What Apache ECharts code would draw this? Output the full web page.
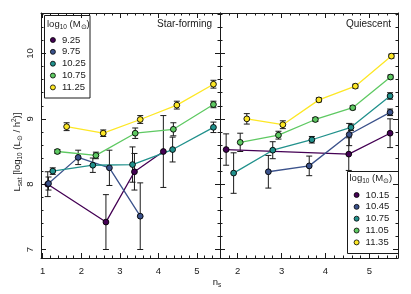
<!DOCTYPE html>
<html><head><meta charset="utf-8">
<script src="https://cdn.jsdelivr.net/npm/echarts@6/dist/echarts.min.js"></script>
<style>html,body{margin:0;padding:0;background:#fff}#c{width:411px;height:294px}</style>
</head><body><div id="c"></div><script>
// ---------- data ----------
const sfMass = ['9.25', '9.75', '10.25', '10.75', '11.25'];
const sfX925 = [1.13, 2.64, 3.38, 4.13];
const sfY925 = [8.00, 7.42, 8.19, 8.50];
const sfE925 = [0.19, 0.42, 0.28, 0.55];
const sfX975 = [1.15, 1.92, 2.73, 3.53];
const sfY975 = [8.01, 8.41, 8.25, 7.51];
const sfE975 = [0.10, 0.11, 0.27, 0.51];
const sfX1025 = [1.26, 2.30, 3.33, 4.37, 5.43];
const sfY1025 = [8.20, 8.29, 8.30, 8.53, 8.87];
const sfE1025 = [0.05, 0.11, 0.27, 0.19, 0.08];
const sfX1075 = [1.38, 2.38, 3.40, 4.39, 5.43];
const sfY1075 = [8.50, 8.44, 8.78, 8.84, 9.22];
const sfE1075 = [0.03, 0.05, 0.08, 0.10, 0.05];
const sfX1125 = [1.62, 2.57, 3.53, 4.48, 5.43];
const sfY1125 = [8.88, 8.78, 8.99, 9.21, 9.53];
const sfE1125 = [0.06, 0.05, 0.06, 0.06, 0.06];

const qMass = ['10.15', '10.45', '10.75', '11.05', '11.35'];
const qX1015 = [1.74, 4.53, 5.47];
const qY1015 = [8.53, 8.46, 8.78];
const qE1015 = [0.24, 0.25, 0.22];
const qX1045 = [2.70, 3.63, 4.54, 5.47];
const qY1045 = [8.19, 8.28, 8.76, 9.10];
const qE1045 = [0.25, 0.15, 0.17, 0.05];
const qX1075 = [1.91, 2.80, 3.69, 4.58, 5.47];
const qY1075 = [8.17, 8.52, 8.68, 8.87, 9.35];
const qE1075 = [0.31, 0.13, 0.05, 0.05, 0.05];
const qX1105 = [2.06, 2.93, 3.77, 4.62, 5.48];
const qY1105 = [8.64, 8.75, 8.99, 9.17, 9.64];
const qE1105 = [0.14, 0.06, 0.03, 0.03, 0.03];
const qX1135 = [2.21, 3.03, 3.85, 4.68, 5.50];
const qY1135 = [9.00, 8.91, 9.29, 9.50, 9.96];
const qE1135 = [0.08, 0.06, 0.03, 0.03, 0.03];

const xTickLabels = [1, 2, 3, 4, 5];
const yTickLabels = [7, 8, 9, 10];
const yMinor = [7.2, 7.4, 7.6, 7.8, 8.2, 8.4, 8.6, 8.8, 9.2, 9.4, 9.6, 9.8, 10.2, 10.4, 10.6];
const xMinorSF = [1.2, 1.4, 1.6, 1.8, 2.2, 2.4, 2.6, 2.8, 3.2, 3.4, 3.6, 3.8, 4.2, 4.4, 4.6, 4.8, 5.2, 5.4];
const xMinorQ = [1.8, 2.2, 2.4, 2.6, 2.8, 3.2, 3.4, 3.6, 3.8, 4.2, 4.4, 4.6, 4.8, 5.2, 5.4, 5.6];
const xMajorQ = [2, 3, 4, 5];

// ---------- style ----------
const FONT = '"Liberation Sans", Arial, Helvetica, sans-serif';
const INK = '#1a1a1a';
const VIRIDIS = ['#440154', '#3b528b', '#21918c', '#5ec962', '#fde725'];
const YMIN = 6.87, YMAX = 10.62;
const SF_MIN = 0.955, SF_MAX = 5.6;
const Q_MIN = 1.6, Q_MAX = 5.65;

function mkX(g, min, max, pos, vals, len, line, labels) {
  return {
    type: 'value', gridIndex: g, min: min, max: max, position: pos,
    axisLine: { show: line, onZero: false, lineStyle: { color: INK, width: 1 } },
    axisTick: { show: true, inside: true, length: len, customValues: vals, lineStyle: { color: INK, width: 1 } },
    axisLabel: labels ? { show: true, customValues: labels, margin: 8, fontSize: 9.5, fontFamily: FONT, color: INK,
      showMinLabel: true, showMaxLabel: true } : { show: false },
    splitLine: { show: false }
  };
}
function mkY(g, pos, vals, len, line) {
  return {
    type: 'value', gridIndex: g, min: YMIN, max: YMAX, position: pos,
    axisLine: { show: line, onZero: false, lineStyle: { color: INK, width: 1 } },
    axisTick: { show: true, inside: true, length: len, customValues: vals, lineStyle: { color: INK, width: 1 } },
    axisLabel: { show: false },
    splitLine: { show: false }
  };
}

const xAxis = [
  mkX(0, SF_MIN, SF_MAX, 'bottom', xTickLabels, 5, true, xTickLabels),
  mkX(0, SF_MIN, SF_MAX, 'bottom', xMinorSF, 2.5, false, null),
  mkX(0, SF_MIN, SF_MAX, 'top', xTickLabels, 5, true, null),
  mkX(0, SF_MIN, SF_MAX, 'top', xMinorSF, 2.5, false, null),
  mkX(1, Q_MIN, Q_MAX, 'bottom', xMajorQ, 5, true, xMajorQ),
  mkX(1, Q_MIN, Q_MAX, 'bottom', xMinorQ, 2.5, false, null),
  mkX(1, Q_MIN, Q_MAX, 'top', xMajorQ, 5, true, null),
  mkX(1, Q_MIN, Q_MAX, 'top', xMinorQ, 2.5, false, null)
];
const yAxis = [
  mkY(0, 'left', yTickLabels, 5, true),
  mkY(0, 'left', yMinor, 2.5, false),
  mkY(0, 'right', yTickLabels, 5, true),
  mkY(0, 'right', yMinor, 2.5, false),
  mkY(1, 'left', yTickLabels, 5, true),
  mkY(1, 'left', yMinor, 2.5, false),
  mkY(1, 'right', yTickLabels, 5, true),
  mkY(1, 'right', yMinor, 2.5, false)
];

function errRender(params, api) {
  const x = api.value(0), y = api.value(1), e = api.value(2);
  const t = api.coord([x, y + e]), b = api.coord([x, y - e]);
  const hw = 3;
  const st = { stroke: INK, lineWidth: 1 };
  return { type: 'group', children: [
    { type: 'line', shape: { x1: t[0], y1: t[1], x2: b[0], y2: b[1] }, style: st },
    { type: 'line', shape: { x1: t[0] - hw, y1: t[1], x2: t[0] + hw, y2: t[1] }, style: st },
    { type: 'line', shape: { x1: b[0] - hw, y1: b[1], x2: b[0] + hw, y2: b[1] }, style: st }
  ] };
}

// y tick labels (rotated), placed through the y scale of the left panel
function yLabelRender(params, api) {
  const v = api.value(1);
  const c = api.coord([SF_MIN, v]);
  return { type: 'text', x: c[0] - 11, y: c[1], rotation: Math.PI / 2,
    style: { text: String(v), fontSize: 9.5, fontFamily: FONT, fill: INK, align: 'center', verticalAlign: 'middle' } };
}

const series = [];
function addPanel(prefix, masses, xs, ys, es, axIdx) {
  masses.forEach(function (m, i) {
    const pts = xs[i].map(function (x, j) { return [x, ys[i][j]]; });
    const errs = xs[i].map(function (x, j) { return [x, ys[i][j], es[i][j]]; });
    series.push({ type: 'custom', name: prefix + 'err' + m, xAxisIndex: axIdx, yAxisIndex: axIdx,
      data: errs, renderItem: errRender, encode: { x: 0, y: 1 }, z: 2, silent: true });
    series.push({ type: 'line', name: prefix + '|' + m, xAxisIndex: axIdx, yAxisIndex: axIdx,
      data: pts, symbol: 'circle', symbolSize: 5.8, showSymbol: true, z: 3,
      itemStyle: { color: VIRIDIS[i], borderColor: '#000', borderWidth: 0.9 },
      lineStyle: { color: VIRIDIS[i], width: 1.3 } });
  });
}
addPanel('sf', sfMass, [sfX925, sfX975, sfX1025, sfX1075, sfX1125],
  [sfY925, sfY975, sfY1025, sfY1075, sfY1125], [sfE925, sfE975, sfE1025, sfE1075, sfE1125], 0);
addPanel('q', qMass, [qX1015, qX1045, qX1075, qX1105, qX1135],
  [qY1015, qY1045, qY1075, qY1105, qY1135], [qE1015, qE1045, qE1075, qE1105, qE1135], 4);
series.push({ type: 'custom', name: 'yTickLabels', xAxisIndex: 0, yAxisIndex: 0, clip: false, silent: true, z: 10,
  data: yTickLabels.map(function (v) { return [SF_MIN, v]; }), encode: { x: 0, y: 1 }, renderItem: yLabelRender });

function mkLegend(prefix, masses, left, top) {
  return {
    data: masses.map(function (m) { return prefix + '|' + m; }),
    orient: 'vertical', left: left, top: top, padding: 0,
    itemWidth: 8, itemHeight: 5, itemGap: 0.85, icon: 'circle',
    itemStyle: { borderColor: '#000', borderWidth: 0.8 },
    textStyle: { fontSize: 9.5, fontFamily: FONT, color: INK, lineHeight: 11 },
    formatter: function (n) { return n.split('|')[1]; },
    selectedMode: false
  };
}

const richBase = {
  n: { fontSize: 9.5, fontFamily: FONT, fill: INK, lineHeight: 13 },
  s: { fontSize: 6.5, fontFamily: FONT, fill: INK, lineHeight: 8, verticalAlign: 'bottom' },
  p: { fontSize: 6.5, fontFamily: FONT, fill: INK, lineHeight: 8, verticalAlign: 'top' }
};

const chart = echarts.init(document.getElementById('c'), null, { renderer: 'canvas' });
chart.setOption({
  animation: false,
  backgroundColor: '#fff',
  grid: [
    { left: 41, right: 191, top: 13, bottom: 36, containLabel: false, outerBoundsMode: 'none' },
    { left: 220, right: 13, top: 13, bottom: 36, containLabel: false, outerBoundsMode: 'none' }
  ],
  xAxis: xAxis,
  yAxis: yAxis,
  legend: [mkLegend('sf', sfMass, 50, 34.5), mkLegend('q', qMass, 353.7, 189.5)],
  graphic: [
    { type: 'rect', shape: { x: 44.5, y: 15.5, width: 45.5, height: 82.5 }, style: { fill: '#fff', stroke: INK, lineWidth: 1 } },
    { type: 'rect', shape: { x: 347.5, y: 171.5, width: 51, height: 82 }, style: { fill: '#fff', stroke: INK, lineWidth: 1 } },
    { type: 'text', x: 47, y: 24, style: { text: '{n|log}{s|10}{n| (M}{s|⊙}{n|)}', rich: richBase, align: 'left', verticalAlign: 'middle' } },
    { type: 'text', x: 349.5, y: 178.5, style: { text: '{n|log}{s|10}{n| (M}{s|⊙}{n|)}', rich: richBase, align: 'left', verticalAlign: 'middle' } },
    { type: 'text', x: 212, y: 24, style: { text: 'Star-forming', fontSize: 10, fontFamily: FONT, fill: INK, align: 'right', verticalAlign: 'middle' } },
    { type: 'text', x: 391, y: 24, style: { text: 'Quiescent', fontSize: 10, fontFamily: FONT, fill: INK, align: 'right', verticalAlign: 'middle' } },
    { type: 'text', x: 217, y: 282, style: { text: '{n|n}{s|s}', rich: richBase, align: 'center', verticalAlign: 'middle' } },
    { type: 'text', x: 17.5, y: 152, rotation: Math.PI / 2,
      style: { text: '{n|L}{s|sat}{n| [log}{s|10}{n| (L}{s|⊙}{n| / h}{p|2}{n|)]}', rich: richBase, align: 'center', verticalAlign: 'middle' } }
  ],
  series: series
});
</script></body></html>
